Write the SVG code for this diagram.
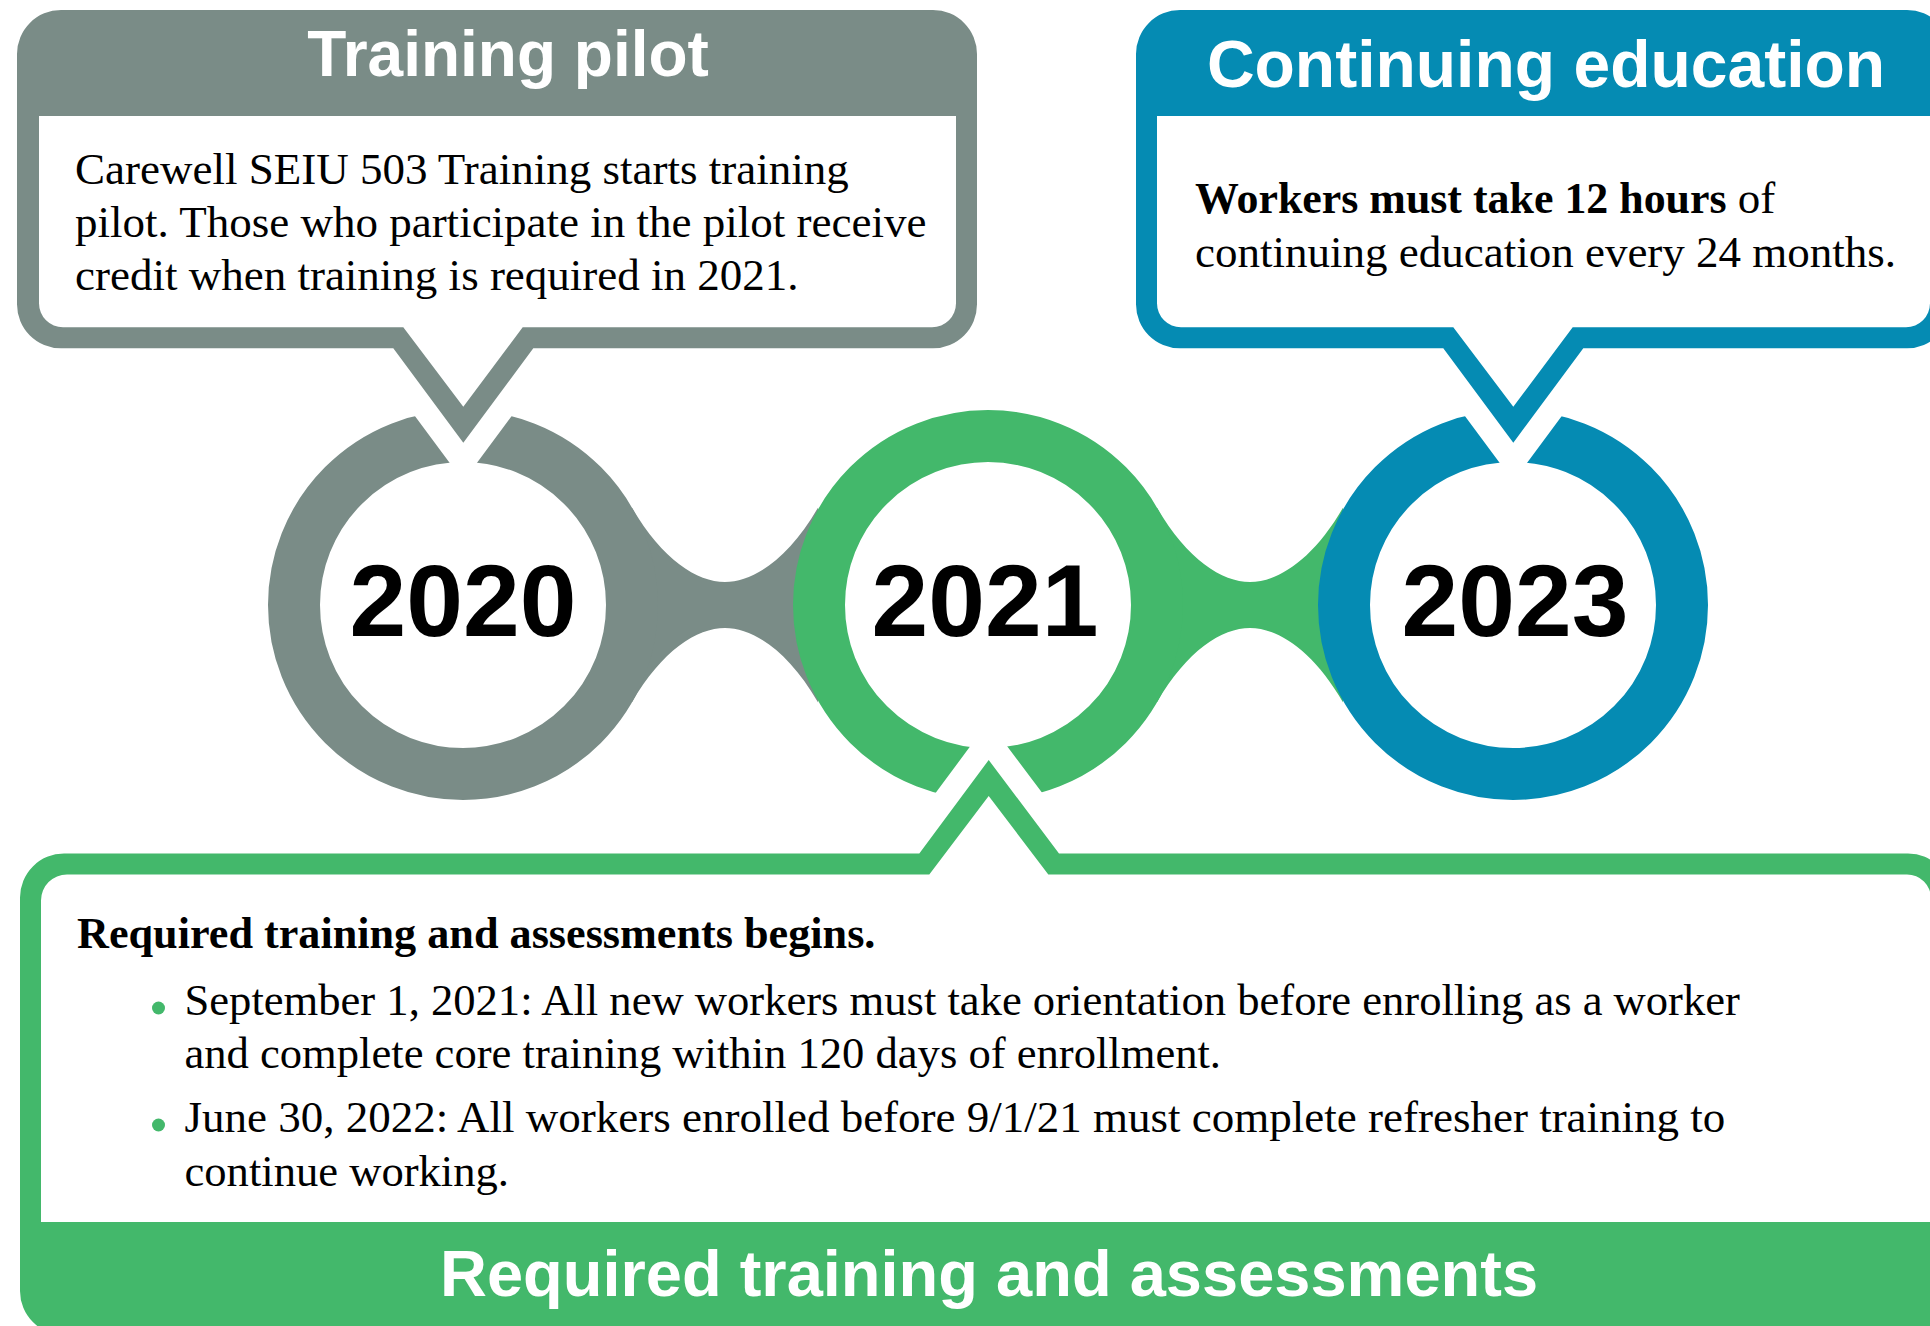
<svg xmlns="http://www.w3.org/2000/svg" width="1930" height="1326" viewBox="0 0 1930 1326">
  <style>
    .hdr { font-family: "Liberation Sans", Arial, sans-serif; font-weight: bold; fill: #ffffff; text-anchor: middle; }
    .yr { font-family: "Liberation Sans", Arial, sans-serif; font-weight: bold; font-size: 102px; fill: #000000; text-anchor: middle; }
    .body { font-family: "Liberation Serif", "Times New Roman", serif; fill: #000000; }
    .b { font-weight: bold; }
    .ring { fill: none; stroke-width: 52; }
    .halo { stroke: #ffffff; stroke-width: 46; stroke-linejoin: miter; paint-order: stroke; }
    .gray { fill: #7A8C87; }
    .green { fill: #43B86B; }
    .blue { fill: #058BB3; }
    .inner { fill: #ffffff; }
  </style>
  <rect x="0" y="0" width="1930" height="1326" fill="#ffffff"/>

  <g id="connectors">
    <path class="gray" d="M 631.9,507.5 C 661.9,559.5 697,582 725,582 C 753,582 788.1,559.5 818.1,507.5 L 818.1,702.5 C 788.1,650.5 753,628 725,628 C 697,628 661.9,650.5 631.9,702.5 Z"/>
    <path class="green" d="M 1156.9,507.5 C 1186.9,559.5 1222,582 1250,582 C 1278,582 1313.1,559.5 1343.1,507.5 L 1343.1,702.5 C 1313.1,650.5 1278,628 1250,628 C 1222,628 1186.9,650.5 1156.9,702.5 Z"/>
  </g>

  <g id="node-2020">
    <circle class="ring" cx="463" cy="605" r="169" stroke="#7A8C87"/>
    <text class="yr" x="463" y="636">2020</text>
  </g>
  <g id="node-2021">
    <circle class="ring" cx="988" cy="605" r="169" stroke="#43B86B"/>
    <text class="yr" x="985" y="636">2021</text>
  </g>
  <g id="node-2023">
    <circle class="ring" cx="1513" cy="605" r="169" stroke="#058BB3"/>
    <text class="yr" x="1515" y="636">2023</text>
  </g>

  <g id="callout-training-pilot">
    <path class="gray halo" d="M 61,10 L 933,10 A 44,44 0 0 1 977,54 L 977,304.3 A 44,44 0 0 1 933,348.3 L 533.3,348.3 L 463.3,442.7 L 393.3,348.3 L 61,348.3 A 44,44 0 0 1 17,304.3 L 17,54 A 44,44 0 0 1 61,10 Z"/>
    <path class="inner" d="M 39,116 L 956,116 L 956,303.3 A 24,24 0 0 1 932,327.3 L 522.7,327.3 L 463.3,406.7 L 403.3,327.3 L 63,327.3 A 24,24 0 0 1 39,303.3 Z"/>
    <text class="hdr" x="508" y="76" font-size="64">Training pilot</text>
    <text class="body" x="75" y="184" font-size="45">Carewell SEIU 503 Training starts training</text>
    <text class="body" x="75" y="237" font-size="45">pilot. Those who participate in the pilot receive</text>
    <text class="body" x="75" y="290" font-size="45">credit when training is required in 2021.</text>
  </g>

  <g id="callout-continuing-education">
    <path class="blue halo" d="M 1180,10 L 1907,10 A 44,44 0 0 1 1951,54 L 1951,304.3 A 44,44 0 0 1 1907,348.3 L 1583.3,348.3 L 1513.3,442.7 L 1443.3,348.3 L 1180,348.3 A 44,44 0 0 1 1136,304.3 L 1136,54 A 44,44 0 0 1 1180,10 Z"/>
    <path class="inner" d="M 1157,116 L 1930,116 L 1930,303.3 A 24,24 0 0 1 1906,327.3 L 1572.7,327.3 L 1513.3,406.7 L 1453.3,327.3 L 1181,327.3 A 24,24 0 0 1 1157,303.3 Z"/>
    <text class="hdr" x="1546" y="87" font-size="66">Continuing education</text>
    <text class="body" x="1195" y="213" font-size="45"><tspan class="b" font-size="43.9">Workers must take 12 hours</tspan> of</text>
    <text class="body" x="1195" y="267" font-size="45">continuing education every 24 months.</text>
  </g>

  <g id="callout-required-training">
    <path class="green halo" d="M 64,853.5 L 919.3,853.5 L 988.7,760 L 1059,853.5 L 1908,853.5 A 44,44 0 0 1 1952,897.5 L 1952,1291 A 44,44 0 0 1 1908,1335 L 64,1335 A 44,44 0 0 1 20,1291 L 20,897.5 A 44,44 0 0 1 64,853.5 Z"/>
    <path class="inner" d="M 41,900.5 A 26,26 0 0 1 67,874.5 L 929.3,874.5 L 988.7,796 L 1048.3,874.5 L 1907,874.5 A 24,24 0 0 1 1931,898.5 L 1931,1222 L 41,1222 Z"/>
    <text class="body b" x="77" y="948" font-size="44.2">Required training and assessments begins.</text>
    <circle class="green" cx="158.5" cy="1008" r="6.5"/>
    <text class="body" x="184.5" y="1014.5" font-size="44.6">September 1, 2021: All new workers must take orientation before enrolling as a worker</text>
    <text class="body" x="184.5" y="1068" font-size="44.6">and complete core training within 120 days of enrollment.</text>
    <circle class="green" cx="158.5" cy="1125" r="6.5"/>
    <text class="body" x="184.5" y="1132" font-size="45">June 30, 2022: All workers enrolled before 9/1/21 must complete refresher training to</text>
    <text class="body" x="184.5" y="1186" font-size="44.6">continue working.</text>
    <text class="hdr" x="989" y="1296" font-size="65">Required training and assessments</text>
  </g>
</svg>
